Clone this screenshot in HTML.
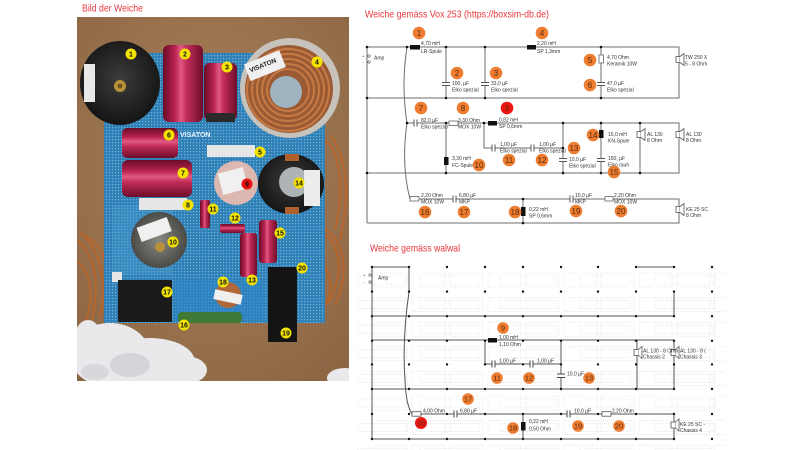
<!DOCTYPE html>
<html><head><meta charset="utf-8">
<style>
html,body{margin:0;padding:0;background:#fff;}
svg{display:block;}
text{font-family:"Liberation Sans",sans-serif;}
</style></head><body>
<svg width="800" height="450" viewBox="0 0 800 450" xmlns="http://www.w3.org/2000/svg">
<defs>
<linearGradient id="rv" x1="0" y1="0" x2="1" y2="0">
<stop offset="0" stop-color="#6a0c26"/><stop offset="0.3" stop-color="#b8234f"/><stop offset="0.45" stop-color="#e05a82"/><stop offset="0.6" stop-color="#c02c58"/><stop offset="1" stop-color="#6e0d28"/>
</linearGradient>
<linearGradient id="rh" x1="0" y1="0" x2="0" y2="1">
<stop offset="0" stop-color="#6a0c26"/><stop offset="0.3" stop-color="#b8234f"/><stop offset="0.45" stop-color="#e05a82"/><stop offset="0.6" stop-color="#c02c58"/><stop offset="1" stop-color="#6e0d28"/>
</linearGradient>
<radialGradient id="blk" cx="0.5" cy="0.45" r="0.6">
<stop offset="0" stop-color="#3c3c3c"/><stop offset="1" stop-color="#111"/>
</radialGradient>
<radialGradient id="gry" cx="0.5" cy="0.5" r="0.6">
<stop offset="0" stop-color="#8a8a84"/><stop offset="1" stop-color="#3e3e3a"/>
</radialGradient>
<radialGradient id="brn" cx="0.5" cy="0.4" r="0.8">
<stop offset="0" stop-color="#a8815a"/><stop offset="1" stop-color="#8a6442"/>
</radialGradient>
<pattern id="pcb" width="3" height="3" patternUnits="userSpaceOnUse">
<rect width="3" height="3" fill="#2f80b6"/><rect x="1" y="1" width="1.2" height="1.2" fill="#74b4dc"/>
</pattern>
<clipPath id="ph"><rect x="77" y="17" width="272" height="364"/></clipPath>
<clipPath id="wc"><rect x="355" y="255" width="370" height="195"/></clipPath>
</defs>

<!-- titles -->
<text x="82" y="11.5" font-size="10.5" fill="#e8363c" textLength="61" lengthAdjust="spacingAndGlyphs">Bild der Weiche</text>
<text x="365" y="17.5" font-size="10.5" fill="#e8363c" textLength="184" lengthAdjust="spacingAndGlyphs">Weiche gemäss Vox 253 (https://boxsim-db.de)</text>
<text x="370" y="251.5" font-size="10.5" fill="#e8363c" textLength="90" lengthAdjust="spacingAndGlyphs">Weiche gemäss walwal</text>

<!-- ================= PHOTO ================= -->
<g clip-path="url(#ph)">
<rect x="77" y="17" width="272" height="364" fill="url(#brn)"/>
<!-- copper wires -->
<g fill="none" stroke="#b5652f" stroke-width="2.2">
<path d="M77,240 C95,255 100,280 92,320"/><path d="M80,232 C100,250 108,280 100,318"/><path d="M77,262 C90,270 95,295 85,325"/>
<path d="M86,236 C100,245 110,258 108,300"/>
<path d="M325,140 C340,150 345,190 335,230"/><path d="M330,135 C349,160 349,200 340,240"/>
<path d="M318,230 C340,240 345,270 330,300 C320,312 305,305 302,290"/>
<path d="M322,228 C345,238 350,275 335,305"/><path d="M318,260 C330,265 335,290 325,305"/>
<path d="M300,225 C312,250 310,285 298,300"/>
</g>
<!-- board -->
<rect x="104" y="53" width="221" height="270" fill="url(#pcb)"/>
<rect x="112" y="205" width="60" height="70" fill="#4a98cc" opacity="0.45"/>
<rect x="175" y="280" width="90" height="40" fill="#2f84c6" opacity="0.6"/>
<rect x="112" y="272" width="10" height="10" fill="#e6e6e6"/>
<text x="180" y="137" font-size="7" font-weight="bold" fill="#e8f2fa">VISATON</text>
<!-- 1 black disc -->
<ellipse cx="120" cy="83" rx="40" ry="42" fill="url(#blk)"/>
<rect x="84" y="64" width="11" height="38" fill="#e8e8e8"/>
<circle cx="120" cy="86" r="6" fill="#b8923a"/><circle cx="120" cy="86" r="2.5" fill="#6e5420"/>
<!-- 2,3 caps -->
<rect x="163" y="45" width="40" height="77" rx="6" fill="url(#rv)"/>
<rect x="204" y="63" width="33" height="57" rx="5" fill="url(#rv)"/>
<rect x="206" y="113" width="29" height="9" fill="#2a2a2a"/>
<!-- 4 glass coil -->
<circle cx="290" cy="88" r="50" fill="#c8c2bc"/>
<circle cx="289" cy="89" r="44" fill="#9a5a34"/>
<g fill="none" stroke="#c87a44" stroke-width="2">
<circle cx="288" cy="90" r="41"/><circle cx="288" cy="90" r="36"/><circle cx="288" cy="90" r="31"/><circle cx="288" cy="90" r="26"/><circle cx="288" cy="90" r="21"/>
</g>
<circle cx="286" cy="92" r="16" fill="#9fb4c0"/>
<g transform="rotate(-22 264 66)"><rect x="246" y="57" width="38" height="18" fill="#f0f0f0"/><text x="249" y="67" font-size="6.5" font-weight="bold" fill="#222">VISATON</text></g>
<!-- 6,7 caps -->
<rect x="122" y="128" width="56" height="30" rx="5" fill="url(#rh)"/>
<rect x="122" y="160" width="70" height="37" rx="6" fill="url(#rh)"/>
<!-- 5,8 resistors -->
<rect x="207" y="145" width="48" height="12" fill="#e6e6e6"/>
<rect x="139" y="198" width="48" height="12" fill="#e6e6e6"/>
<!-- 9 coil -->
<circle cx="236" cy="183" r="22" fill="#dcb8b0"/>
<rect x="220" y="170" width="26" height="22" fill="#f0f0f0" transform="rotate(-15 233 181)"/>
<!-- 14 coil -->
<ellipse cx="291" cy="184" rx="33" ry="30" fill="url(#blk)"/>
<rect x="285" y="154" width="14" height="7" fill="#b0602c"/>
<rect x="285" y="207" width="14" height="7" fill="#b0602c"/>
<circle cx="294" cy="182" r="15" fill="#aeb3b6"/>
<rect x="304" y="170" width="16" height="36" fill="#ececec"/>
<!-- 10 coil -->
<circle cx="159" cy="240" r="28" fill="url(#gry)"/>
<rect x="138" y="222" width="32" height="15" fill="#f0f0f0" transform="rotate(-20 154 229)"/>
<circle cx="160" cy="247" r="5" fill="#b8923a"/>
<!-- small caps 11,12,13,15 -->
<rect x="200" y="200" width="10" height="28" rx="2" fill="url(#rv)"/>
<rect x="220" y="224" width="25" height="9" rx="2" fill="url(#rh)"/>
<rect x="240" y="233" width="17" height="44" rx="3" fill="url(#rv)"/>
<rect x="259" y="220" width="18" height="43" rx="3" fill="url(#rv)"/>
<!-- 17 box -->
<rect x="118" y="280" width="54" height="42" fill="#1b1b1b"/>
<!-- 19 bar -->
<rect x="268" y="267" width="29" height="75" fill="#141414"/>
<!-- 18 coil -->
<circle cx="228" cy="295" r="13" fill="#b0683a"/>
<rect x="214" y="292" width="28" height="10" fill="#f0f0f0" transform="rotate(12 228 297)"/>
<!-- 16 green resistor -->
<rect x="178" y="312" width="64" height="11" rx="4" fill="#3f7a38"/>
<!-- cotton -->
<g fill="#e9e9ec">
<ellipse cx="110" cy="355" rx="40" ry="32"/><ellipse cx="150" cy="362" rx="45" ry="24"/><ellipse cx="88" cy="340" rx="14" ry="20"/><ellipse cx="185" cy="370" rx="22" ry="14"/>
<ellipse cx="345" cy="378" rx="18" ry="10"/>
</g>
<ellipse cx="130" cy="365" rx="20" ry="12" fill="#d4d4d9"/>
<ellipse cx="95" cy="372" rx="14" ry="8" fill="#d8d8dc"/>
</g>
<!-- photo badges -->
<g font-size="7" font-weight="bold" text-anchor="middle" fill="#111">
<g fill="#f4e300">
<circle cx="131" cy="54" r="5.5"/><circle cx="185" cy="54" r="5.5"/><circle cx="227" cy="67" r="5.5"/><circle cx="317" cy="62" r="5.5"/>
<circle cx="169" cy="135" r="5.5"/><circle cx="260" cy="152" r="5.5"/><circle cx="183" cy="173" r="5.5"/><circle cx="299" cy="183" r="5.5"/>
<circle cx="188" cy="205" r="5.5"/><circle cx="213" cy="209" r="5.5"/><circle cx="235" cy="218" r="5.5"/><circle cx="173" cy="242" r="5.5"/>
<circle cx="280" cy="233" r="5.5"/><circle cx="302" cy="268" r="5.5"/><circle cx="252" cy="280" r="5.5"/><circle cx="223" cy="282" r="5.5"/>
<circle cx="167" cy="292" r="5.5"/><circle cx="184" cy="325" r="5.5"/><circle cx="286" cy="333" r="5.5"/>
</g>
<circle cx="247" cy="184" r="5.5" fill="#e81010"/>
<text x="131" y="56.5">1</text><text x="185" y="56.5">2</text><text x="227" y="69.5">3</text><text x="317" y="64.5">4</text>
<text x="169" y="137.5">6</text><text x="260" y="154.5">5</text><text x="183" y="175.5">7</text><text x="299" y="185.5">14</text>
<text x="188" y="207.5">8</text><text x="213" y="211.5">11</text><text x="235" y="220.5">12</text><text x="173" y="244.5">10</text>
<text x="280" y="235.5">15</text><text x="302" y="270.5">20</text><text x="252" y="282.5">13</text><text x="223" y="284.5">18</text>
<text x="167" y="294.5">17</text><text x="184" y="327.5">16</text><text x="286" y="335.5">19</text><text x="247" y="186.5">9</text>
</g>

<!-- ================= TOP DIAGRAM ================= -->
<g stroke="#6e6e6e" stroke-width="1" fill="none">
<path d="M367,47 H410 M420,47 H527 M536,47 H679 V98 H367"/>
<path d="M446,47 V82 M446,86 V98 M485,47 V82 M485,86 V98"/>
<path d="M601,47 V55 M601,63 V82 M601,86 V98"/>
<path d="M407,123 H413.5 M417,123 H449 M458,123 H488 M497,123 H679 V173 H367"/>
<path d="M446,123 V173 M484,123 V148 H491.5 M495,148 H530.5 M534,148 H563"/>
<path d="M563,123 V158 M563,162 V173 M601,123 V158 M601,162 V173 M640,123 V173"/>
<path d="M419,199 H452.5 M456,199 H569.5 M573,199 H605 M613,199 H679 V223 H367 M367,47 V223"/>
<path d="M523,199 V223"/>
<path d="M407,47 Q401,85 407,123 Q401,165 410,199"/>
</g>
<g stroke="#555" stroke-width="1">
<path d="M442,82.5 H450 M442,85.5 H450 M481,82.5 H489 M481,85.5 H489 M597,82.5 H605 M597,85.5 H605"/>
<path d="M414,119.5 V126.5 M417,119.5 V126.5 M492,144.5 V151.5 M495,144.5 V151.5 M531,144.5 V151.5 M534,144.5 V151.5"/>
<path d="M559,158.5 H567 M559,161.5 H567 M597,158.5 H605 M597,161.5 H605"/>
<path d="M453,195.5 V202.5 M456,195.5 V202.5 M570,195.5 V202.5 M573,195.5 V202.5"/>
</g>
<g fill="#111">
<rect x="410" y="45" width="10" height="4.5"/><rect x="527" y="45" width="9" height="4.5"/>
<rect x="488" y="121" width="9" height="4.5"/><rect x="444" y="157" width="4.5" height="8"/>
<rect x="599" y="130" width="4.5" height="8"/><rect x="521" y="207" width="4.5" height="9"/>
</g>
<g fill="#fff" stroke="#666" stroke-width="0.8">
<rect x="599" y="55" width="4.5" height="8"/><rect x="449" y="121" width="9" height="4.5"/>
<rect x="410" y="196.5" width="9" height="4.5"/><rect x="605" y="196.5" width="8" height="4.5"/>
</g>
<g fill="#fff" stroke="#555" stroke-width="0.8">
<rect x="676" y="56.5" width="4" height="6"/><path d="M680,56.5 L684,53.5 V65.5 L680,62.5"/>
<rect x="637" y="131.5" width="4" height="6"/><path d="M641,131.5 L645,128.5 V140.5 L641,137.5"/>
<rect x="676" y="131.5" width="4" height="6"/><path d="M680,131.5 L684,128.5 V140.5 L680,137.5"/>
<rect x="676" y="206.5" width="4" height="6"/><path d="M680,206.5 L684,203.5 V215.5 L680,212.5"/>
</g>
<g fill="#111">
<circle cx="367" cy="47" r="1.3"/><circle cx="407" cy="47" r="1.3"/><circle cx="446" cy="47" r="1.3"/><circle cx="485" cy="47" r="1.3"/><circle cx="601" cy="47" r="1.3"/>
<circle cx="367" cy="98" r="1.3"/><circle cx="446" cy="98" r="1.3"/><circle cx="485" cy="98" r="1.3"/><circle cx="601" cy="98" r="1.3"/>
<circle cx="407" cy="123" r="1.3"/><circle cx="446" cy="123" r="1.3"/><circle cx="484" cy="123" r="1.3"/><circle cx="563" cy="123" r="1.3"/><circle cx="601" cy="123" r="1.3"/><circle cx="640" cy="123" r="1.3"/>
<circle cx="563" cy="148" r="1.3"/>
<circle cx="367" cy="173" r="1.3"/><circle cx="446" cy="173" r="1.3"/><circle cx="563" cy="173" r="1.3"/><circle cx="601" cy="173" r="1.3"/><circle cx="640" cy="173" r="1.3"/>
<circle cx="523" cy="199" r="1.3"/><circle cx="523" cy="223" r="1.3"/>
</g>
<g fill="#fff" stroke="#555" stroke-width="0.6"><circle cx="369" cy="56" r="1.2"/><circle cx="369" cy="62" r="1.2"/></g>
<g font-size="4" fill="#333"><text x="362" y="57.5">+</text><text x="362.5" y="63.5">-</text></g>
<g font-size="5" fill="#333">
<text x="374" y="59.5">Amp</text>
<text x="421" y="45">4,70 mH</text><text x="421" y="53">LR-Spule</text>
<text x="537" y="45">2,20 mH</text><text x="537" y="53">SP 1,3mm</text>
<text x="452" y="85">100, µF</text><text x="452" y="91.5">Elko spezial</text>
<text x="491" y="85">33,0 µF</text><text x="491" y="91.5">Elko spezial</text>
<text x="607" y="59">4,70 Ohm</text><text x="607" y="65.5">Keramik 10W</text>
<text x="607" y="85">47,0 µF</text><text x="607" y="91.5">Elko spezial</text>
<text x="685" y="59">TW 250 X</text><text x="685" y="65.5">5 - 8 Ohm</text>
<text x="421" y="122">82,0 µF</text><text x="421" y="128.5">Elko spezial</text>
<text x="458" y="122">3,30 Ohm</text><text x="458" y="128.5">MOX 10W</text>
<text x="499" y="121.5">0,82 mH</text><text x="499" y="128">SP 0,6mm</text>
<text x="500" y="146">1,00 µF</text><text x="500" y="152.5">Elko spezial</text>
<text x="539" y="146">1,00 µF</text><text x="539" y="152.5">Elko spezial</text>
<text x="452" y="160">3,30 mH</text><text x="452" y="167">FC-Spule</text>
<text x="569" y="161">10,0 µF</text><text x="569" y="167.5">Elko spezial</text>
<text x="608" y="136">15,0 mH</text><text x="608" y="142.5">KN-Spule</text>
<text x="608" y="160">150, µF</text><text x="608" y="166.5">Elko rauh</text>
<text x="647" y="136">AL 130</text><text x="647" y="142">8 Ohm</text>
<text x="686" y="136">AL 130</text><text x="686" y="142">8 Ohm</text>
<text x="421" y="197">2,20 Ohm</text><text x="421" y="203.5">MOX 10W</text>
<text x="459" y="197">6,80 µF</text><text x="459" y="203.5">MKP</text>
<text x="529" y="211">0,22 mH</text><text x="529" y="217.5">SP 0,6mm</text>
<text x="575" y="197">10,0 µF</text><text x="575" y="203.5">MKP</text>
<text x="614" y="197">2,20 Ohm</text><text x="614" y="203.5">MOX 10W</text>
<text x="686" y="211">KE 25 SC</text><text x="686" y="217">8 Ohm</text>
</g>
<g fill="#ee7d31">
<circle cx="419" cy="33" r="6.3"/><circle cx="542" cy="33" r="6.3"/><circle cx="457" cy="73" r="6.3"/><circle cx="496" cy="73" r="6.3"/>
<circle cx="590" cy="60" r="6.3"/><circle cx="590" cy="85" r="6.3"/><circle cx="421" cy="108" r="6.3"/><circle cx="463" cy="108" r="6.3"/>
<circle cx="479" cy="165" r="6.3"/><circle cx="509" cy="160" r="6.3"/><circle cx="542" cy="160" r="6.3"/><circle cx="574" cy="148" r="6.3"/>
<circle cx="593" cy="135" r="6.3"/><circle cx="614" cy="172" r="6.3"/><circle cx="425" cy="212" r="6.3"/><circle cx="464" cy="212" r="6.3"/>
<circle cx="515" cy="212" r="6.3"/><circle cx="576" cy="211" r="6.3"/><circle cx="621" cy="211" r="6.3"/>
</g>
<circle cx="507" cy="108" r="6.3" fill="#ee1515"/>
<g font-size="8" text-anchor="middle" fill="#5a2a08">
<text x="419" y="36">1</text><text x="542" y="36">4</text><text x="457" y="76">2</text><text x="496" y="76">3</text>
<text x="590" y="63">5</text><text x="590" y="88">6</text><text x="421" y="111">7</text><text x="463" y="111">8</text>
<text x="507" y="111">9</text>
<text x="479" y="168">10</text><text x="509" y="163">11</text><text x="542" y="163">12</text><text x="574" y="151">13</text>
<text x="593" y="138">14</text><text x="614" y="175">15</text><text x="425" y="215">16</text><text x="464" y="215">17</text>
<text x="515" y="215">18</text><text x="576" y="214">19</text><text x="621" y="214">20</text>
</g>

<!-- ================= BOTTOM DIAGRAM ================= -->
<g clip-path="url(#wc)" fill="none" stroke="#dcdcdc" stroke-width="0.6" stroke-dasharray="1,1">
<g id="band">
<rect x="374" y="273" width="33" height="14"/><rect x="412" y="273" width="33" height="14"/><rect x="450" y="273" width="33" height="14"/><rect x="488" y="273" width="33" height="14"/><rect x="526" y="273" width="33" height="14"/><rect x="564" y="273" width="33" height="14"/><rect x="601" y="273" width="33" height="14"/><rect x="639" y="273" width="33" height="14"/><rect x="677" y="273" width="33" height="14"/><rect x="714" y="273" width="20" height="14"/>
<rect x="358" y="276" width="48" height="8"/><rect x="420" y="276" width="60" height="8"/><rect x="500" y="276" width="56" height="8"/><rect x="580" y="276" width="50" height="8"/><rect x="655" y="276" width="60" height="8"/>
</g>
<use href="#band" y="24.6"/><use href="#band" y="49.2"/><use href="#band" y="73.8"/><use href="#band" y="98.4"/><use href="#band" y="123"/><use href="#band" y="147.6"/><use href="#band" y="172.2"/>
</g>
<g stroke="#555" stroke-width="1" fill="none">
<path d="M372,267 V439 M372,267 H409"/>
<path d="M409,267 V292 Q402,340 405,380 Q406,405 412,414"/>
<path d="M372,316 H674 V292 M636,267 H674"/>
<path d="M372,340 H488 M497,340 H674"/>
<path d="M485,340 V364 H491.5 M495,364 H529.5 M533,364 H561"/>
<path d="M561,340 V374 M561,377.5 V389 M637,340 V389 M674,340 V389 M372,389 H674"/>
<path d="M421,414 H453.5 M457,414 H566.5 M570,414 H602 M611,414 H674 V439 M372,439 H674 M523,414 V439"/>
</g>
<g stroke="#444" stroke-width="1">
<path d="M492,360.5 V367.5 M495,360.5 V367.5 M530,360.5 V367.5 M533,360.5 V367.5"/>
<path d="M557,374 H565 M557,377.5 H565"/>
<path d="M454,410.5 V417.5 M457,410.5 V417.5 M567,410.5 V417.5 M570,410.5 V417.5"/>
</g>
<g fill="#111"><rect x="488" y="338" width="9" height="4.5"/><rect x="521" y="422" width="4.5" height="8.5"/></g>
<g fill="#fff" stroke="#555" stroke-width="0.8">
<rect x="412" y="411.7" width="9" height="4.5"/><rect x="602" y="411.7" width="9" height="4.5"/>
<rect x="634" y="349.5" width="4.5" height="6"/><path d="M638.5,349.5 L642,346.5 V358.5 L638.5,355.5"/>
<rect x="671" y="349.5" width="4.5" height="6"/><path d="M675.5,349.5 L679,346.5 V358.5 L675.5,355.5"/>
<rect x="671" y="422" width="4.5" height="6"/><path d="M675.5,422 L679,419 V431 L675.5,428"/>
</g>
<g fill="#111" id="drow">
<circle cx="372" cy="267" r="1.2"/><circle cx="409" cy="267" r="1.2"/><circle cx="447" cy="267" r="1.2"/><circle cx="485" cy="267" r="1.2"/><circle cx="523" cy="267" r="1.2"/><circle cx="561" cy="267" r="1.2"/><circle cx="598" cy="267" r="1.2"/><circle cx="636" cy="267" r="1.2"/><circle cx="674" cy="267" r="1.2"/><circle cx="712" cy="267" r="1.2"/>
</g>
<use href="#drow" y="24.6"/><use href="#drow" y="49.2"/><use href="#drow" y="73.8"/><use href="#drow" y="97.4"/><use href="#drow" y="122"/><use href="#drow" y="147"/><use href="#drow" y="172"/>
<g fill="#fff" stroke="#555" stroke-width="0.6"><circle cx="370" cy="275" r="1.2"/><circle cx="370" cy="282" r="1.2"/></g>
<g font-size="4" fill="#333"><text x="363" y="276.5">+</text><text x="363.5" y="283.5">-</text></g>
<g font-size="5" fill="#333">
<text x="378" y="279.5">Amp</text>
<text x="499" y="339">1,00 mH</text><text x="499" y="346">1,10 Ohm</text>
<text x="499" y="362.5">1,00 µF</text><text x="537" y="362.5">1,00 µF</text>
<text x="567" y="375.5">10,0 µF</text>
<text x="643" y="352.5">AL 130 - 8 Ohm</text><text x="643" y="358.5">Chassis 2</text>
<text x="680" y="352.5">AL 130 - 8 (</text><text x="680" y="358.5">Chassis 3</text>
<text x="423" y="412.5">4,00 Ohm</text><text x="460" y="412.5">6,80 µF</text>
<text x="529" y="423">0,22 mH</text><text x="529" y="430.5">0,50 Ohm</text>
<text x="574" y="412.5">10,0 µF</text><text x="612" y="412.5">2,20 Ohm</text>
<text x="680" y="426">KE 25 SC -</text><text x="680" y="432">Chassis 4</text>
</g>
<g fill="#ee7d31">
<circle cx="503" cy="328" r="5.8"/><circle cx="497" cy="378" r="5.8"/><circle cx="529" cy="378" r="5.8"/><circle cx="589" cy="378" r="5.8"/>
<circle cx="468" cy="399" r="5.8"/><circle cx="513" cy="428" r="5.8"/><circle cx="578" cy="426" r="5.8"/><circle cx="619" cy="426" r="5.8"/>
</g>
<circle cx="421" cy="423" r="6" fill="#ee1515"/>
<g font-size="7.5" text-anchor="middle" fill="#5a2a08">
<text x="503" y="330.7">9</text><text x="497" y="380.7">11</text><text x="529" y="380.7">12</text><text x="589" y="380.7">13</text>
<text x="468" y="401.7">17</text><text x="421" y="425.7">16</text><text x="513" y="430.7">18</text><text x="578" y="428.7">19</text><text x="619" y="428.7">20</text>
</g>
</svg>
</body></html>
